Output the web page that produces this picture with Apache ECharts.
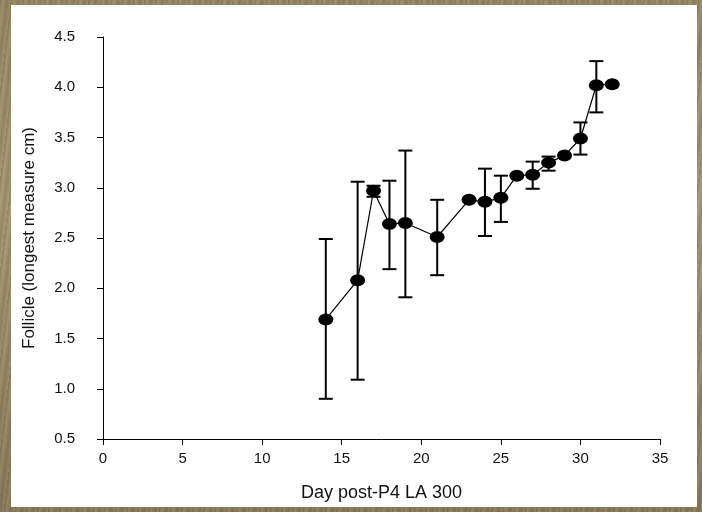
<!DOCTYPE html>
<html>
<head>
<meta charset="utf-8">
<script src="https://cdn.jsdelivr.net/npm/echarts@6/dist/echarts.min.js"></script>
<style>
  html, body { margin: 0; padding: 0; }
  body {
    width: 702px; height: 512px; position: relative; overflow: hidden;
    background:
      repeating-linear-gradient(97deg, rgba(60,50,30,0.18) 0px, rgba(255,240,200,0.10) 3px, rgba(60,50,30,0.12) 7px, rgba(255,240,200,0.08) 11px),
      linear-gradient(180deg, #948462 0%, #a49470 40%, #86775a 100%);
  }
  #panel { position: absolute; left: 11px; top: 5px; width: 686px; height: 502px; background: #fff; }
  #chart { position: absolute; left: 0; top: 0; width: 702px; height: 512px; }
</style>
</head>
<body>
<div id="panel"></div>
<div id="chart"></div>
<script>
// day post-P4 LA 300
const days = [14, 16, 17, 18, 19, 21, 23, 24, 25, 26, 27, 28, 29, 30, 31, 32];
// mean follicle size (cm)
const means = [1.69, 2.08, 2.97, 2.64, 2.65, 2.51, 2.88, 2.86, 2.90, 3.12, 3.13, 3.25, 3.32, 3.49, 4.02, 4.03];
// error bar ends (null = no visible bar)
const upper = [2.49, 3.06, 3.02, 3.07, 3.37, 2.88, null, 3.19, 3.12, null, 3.26, 3.31, null, 3.65, 4.26, null];
const lower = [0.90, 1.09, 2.91, 2.19, 1.91, 2.13, null, 2.52, 2.66, null, 2.99, 3.17, null, 3.33, 3.75, null];

const xTicks = [0, 5, 10, 15, 20, 25, 30, 35];
const yTicks = [0.5, 1.0, 1.5, 2.0, 2.5, 3.0, 3.5, 4.0, 4.5];

const font = "'Liberation Sans', Arial, sans-serif";

const errData = days
  .map((d, i) => [d, lower[i], upper[i]])
  .filter(r => r[1] != null);

const chart = echarts.init(document.getElementById("chart"));

const option = {
  backgroundColor: "transparent",
  animation: false,
  grid: { left: 103, right: 42, top: 37, bottom: 73 },
  xAxis: {
    type: "value",
    min: xTicks[0],
    max: xTicks[xTicks.length - 1],
    interval: 5,
    name: "Day post-P4 LA 300",
    nameLocation: "middle",
    nameGap: 45,
    nameTextStyle: { fontFamily: font, fontSize: 18, color: "#111" },
    axisLine: { lineStyle: { color: "#000", width: 1 } },
    axisTick: { inside: false, length: 6, lineStyle: { color: "#000" } },
    axisLabel: { fontFamily: font, fontSize: 15, color: "#111", margin: 12 },
    splitLine: { show: false }
  },
  yAxis: {
    type: "value",
    min: yTicks[0],
    max: yTicks[yTicks.length - 1],
    interval: 0.5,
    name: "Follicle (longest measure cm)",
    nameLocation: "middle",
    nameGap: 65,
    nameTextStyle: { fontFamily: font, fontSize: 17, color: "#111" },
    axisLine: { show: true, lineStyle: { color: "#000", width: 1 } },
    axisTick: { show: true, inside: false, length: 6, lineStyle: { color: "#000" } },
    axisLabel: {
      fontFamily: font, fontSize: 15, color: "#111", margin: 28,
      formatter: v => v.toFixed(1)
    },
    splitLine: { show: false }
  },
  series: [
    {
      type: "custom",
      z: 2,
      data: errData,
      renderItem: (params, api) => {
        const x = api.value(0);
        const lo = api.coord([x, api.value(1)]);
        const hi = api.coord([x, api.value(2)]);
        const half = 7;
        const style = { stroke: "#000", lineWidth: 2 };
        return {
          type: "group",
          children: [
            { type: "line", shape: { x1: lo[0], y1: lo[1], x2: hi[0], y2: hi[1] }, style },
            { type: "line", shape: { x1: hi[0] - half, y1: hi[1], x2: hi[0] + half, y2: hi[1] }, style },
            { type: "line", shape: { x1: lo[0] - half, y1: lo[1], x2: lo[0] + half, y2: lo[1] }, style }
          ]
        };
      }
    },
    {
      type: "line",
      z: 3,
      data: days.map((d, i) => [d, means[i]]),
      symbol: "circle",
      symbolSize: [15, 12],
      itemStyle: { color: "#000" },
      lineStyle: { color: "#000", width: 1.2 }
    }
  ]
};

chart.setOption(option);
</script>
</body>
</html>
